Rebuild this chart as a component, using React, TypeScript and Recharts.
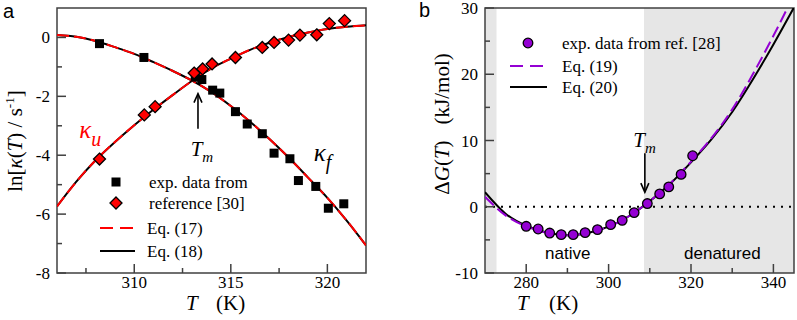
import { ComposedChart, Line, Scatter, XAxis, YAxis, ReferenceArea, ReferenceLine, ReferenceDot } from 'recharts';

const SERIF = '"Liberation Serif", "Times New Roman", serif';
const SANS = '"Liberation Sans", Arial, sans-serif';
const AXIS = '#404040';
const RED = '#ff0000';
const PURPLE = '#9400d3';

// ---- panel a: rate constants ----
const fitT = [306, 307, 308, 309, 310, 311, 312, 313, 314, 315, 316, 317, 318, 319, 320, 321, 322];
const kfFit = [0.08, 0.02, -0.12, -0.33, -0.56, -0.84, -1.14, -1.47, -1.86, -2.33, -2.86, -3.45, -4.08, -4.76, -5.45, -6.22, -7.06];
const kuFit = [-5.74, -4.9, -4.17, -3.55, -2.98, -2.45, -1.95, -1.47, -1.05, -0.72, -0.42, -0.18, 0.02, 0.17, 0.29, 0.36, 0.41];

const kfExpT = [308.2, 310.5, 313.16, 313.5, 314.06, 314.43, 315.24, 315.85, 316.63, 317.24, 318.06, 318.5, 319.4, 320.05, 320.85];
const kfExp = [-0.21, -0.68, -1.35, -1.43, -1.79, -1.89, -2.52, -2.94, -3.27, -3.93, -4.12, -4.86, -5.06, -5.8, -5.65];
const kuExpT = [308.2, 310.52, 311.08, 313.1, 313.54, 314.03, 315.24, 316.63, 317.24, 317.99, 318.58, 319.45, 320.1, 320.89];
const kuExp = [-4.13, -2.63, -2.35, -1.21, -1.07, -0.9, -0.68, -0.34, -0.17, -0.09, 0.08, 0.09, 0.47, 0.57];

const aTicksX = [307.5, 310, 312.5, 315, 317.5, 320];
const aMajorX = [310, 315, 320];
const aTicksY = [-8, -7, -6, -5, -4, -3, -2, -1, 0];
const aMajorY = [-8, -6, -4, -2, 0];

// ---- panel b: free energy ----
const dgFitT = [270, 275, 280, 285, 290, 295, 300, 305, 310, 315, 320, 325, 330, 335, 340, 345];
const dgEq19 = [1.5, -1.3, -2.95, -3.95, -4.3, -3.95, -3.0, -1.4, 0.85, 3.55, 6.8, 10.4, 14.7, 20.0, 25.8, 32.0];
const dgEq20 = [2.2, -1.05, -2.85, -3.9, -4.3, -3.95, -3.0, -1.4, 0.85, 3.5, 6.7, 10.2, 14.3, 19.2, 24.5, 30.1];

const dgExpT = [280.0, 282.9, 285.7, 288.5, 291.4, 294.3, 297.3, 300.5, 303.3, 306.2, 309.4, 312.4, 314.6, 317.6, 320.4];
const dgExp = [-2.95, -3.36, -3.97, -4.21, -4.21, -3.91, -3.45, -2.7, -2.05, -0.88, 0.48, 1.94, 3.0, 4.88, 7.7];

const bTicksX = [280, 290, 300, 310, 320, 330, 340];
const bMajorX = [280, 300, 320, 340];
const bTicksY = [-10, -5, 0, 5, 10, 15, 20, 25, 30];
const bMajorY = [-10, 0, 10, 20, 30];

const pts = (xs: number[], ys: number[]) => xs.map((T, i) => ({ T, v: ys[i] }));

const xTick = (majors: number[]) => (p: any) => {
  const major = majors.includes(p.payload.value);
  return (
    <g>
      <line x1={p.x} x2={p.x} y1={p.y} y2={p.y - (major ? 9 : 5)} stroke={AXIS} strokeWidth={1.5} />
      {major && (
        <text x={p.x} y={p.y + 15} textAnchor="middle" fontFamily={SERIF} fontSize={17} fill="#000">
          {p.payload.value}
        </text>
      )}
    </g>
  );
};

const yTick = (majors: number[]) => (p: any) => {
  const major = majors.includes(p.payload.value);
  return (
    <g>
      <line x1={p.x} x2={p.x + (major ? 9 : 5)} y1={p.y} y2={p.y} stroke={AXIS} strokeWidth={1.5} />
      {major && (
        <text x={p.x - 7} y={p.y + 6} textAnchor="end" fontFamily={SERIF} fontSize={17} fill="#000">
          {p.payload.value}
        </text>
      )}
    </g>
  );
};

const squareShape = (p: any) => <rect x={p.cx - 4.5} y={p.cy - 4.5} width={9} height={9} fill="#000" />;
const diamondShape = (p: any) => (
  <polygon
    points={`${p.cx},${p.cy - 6} ${p.cx + 6},${p.cy} ${p.cx},${p.cy + 6} ${p.cx - 6},${p.cy}`}
    fill={RED}
    stroke="#000"
    strokeWidth={1.3}
  />
);
const circleShape = (p: any) => <circle cx={p.cx} cy={p.cy} r={4.8} fill={PURPLE} stroke="#000" strokeWidth={1.3} />;

// arrow with tip at the dot; dir 1 = shaft goes down (points up), -1 = shaft goes up
const arrow = (len: number, dir: number) => (p: any) => (
  <g stroke="#000" strokeWidth={1.6} fill="none">
    <line x1={p.cx} y1={p.cy} x2={p.cx} y2={p.cy + dir * len} />
    <polyline points={`${p.cx - 4},${p.cy + dir * 9} ${p.cx},${p.cy} ${p.cx + 4},${p.cy + dir * 9}`} />
  </g>
);

const subLabel = (main: string, sub: string, color: string, size: number, subSize: number, dy: number, dx = 0) => (p: any) => (
  <text x={p.cx} y={p.cy} fontFamily={SERIF} fontSize={size} fill={color} fontStyle="italic">
    {main}
    <tspan dx={dx} dy={dy} fontSize={subSize}>{sub}</tspan>
  </text>
);

const plainLabel = (txt: string) => (p: any) => (
  <text x={p.cx} y={p.cy} textAnchor="middle" fontFamily={SANS} fontSize={17} fill="#000">
    {txt}
  </text>
);

function PanelA() {
  return (
    <ComposedChart width={400} height={320} margin={{ top: 8, right: 34, bottom: 17, left: 27 }}>
      <XAxis
        type="number"
        dataKey="T"
        domain={[306, 322]}
        allowDataOverflow
        ticks={aTicksX}
        interval={0}
        height={30}
        tickSize={0}
        tickMargin={0}
        axisLine={false}
        tickLine={false}
        tick={xTick(aMajorX)}
      />
      <YAxis
        type="number"
        dataKey="v"
        domain={[-8, 1]}
        allowDataOverflow
        ticks={aTicksY}
        interval={0}
        width={30}
        tickSize={0}
        tickMargin={0}
        axisLine={false}
        tickLine={false}
        tick={yTick(aMajorY)}
      />
      <Line data={pts(fitT, kfFit)} dataKey="v" type="monotone" stroke="#000" strokeWidth={2} dot={false} isAnimationActive={false} />
      <Line data={pts(fitT, kuFit)} dataKey="v" type="monotone" stroke="#000" strokeWidth={2} dot={false} isAnimationActive={false} />
      <Line data={pts(fitT, kfFit)} dataKey="v" type="monotone" stroke={RED} strokeWidth={2} strokeDasharray="12 5" dot={false} isAnimationActive={false} />
      <Line data={pts(fitT, kuFit)} dataKey="v" type="monotone" stroke={RED} strokeWidth={2} strokeDasharray="12 5" dot={false} isAnimationActive={false} />
      <Scatter data={pts(kfExpT, kfExp)} dataKey="v" shape={squareShape} isAnimationActive={false} />
      <Scatter data={pts(kuExpT, kuExp)} dataKey="v" shape={diamondShape} isAnimationActive={false} />
      <ReferenceDot x={313.3} y={-1.91} shape={arrow(35, 1)} />
      <ReferenceDot x={312.92} y={-4.04} shape={subLabel('T', 'm', '#000', 21, 15, 6)} />
      <ReferenceDot x={307.15} y={-3.4} shape={subLabel('κ', 'u', RED, 25, 20, 8, 0)} />
      <ReferenceDot x={319.3} y={-4.2} shape={subLabel('κ', 'f', '#000', 25, 20, 8, 0)} />
      <ReferenceArea x1={306} x2={322} y1={-8} y2={1} fill="none" stroke={AXIS} strokeWidth={1.5} />
    </ComposedChart>
  );
}

function PanelB() {
  return (
    <ComposedChart width={397} height={320} margin={{ top: 8, right: 3, bottom: 17, left: 55 }}>
      <XAxis
        type="number"
        dataKey="T"
        domain={[270, 345]}
        allowDataOverflow
        ticks={bTicksX}
        interval={0}
        height={30}
        tickSize={0}
        tickMargin={0}
        axisLine={false}
        tickLine={false}
        tick={xTick(bMajorX)}
      />
      <YAxis
        type="number"
        dataKey="v"
        domain={[-10, 30]}
        allowDataOverflow
        ticks={bTicksY}
        interval={0}
        width={30}
        tickSize={0}
        tickMargin={0}
        axisLine={false}
        tickLine={false}
        tick={yTick(bMajorY)}
      />
      <ReferenceArea x1={270} x2={272.8} y1={-10} y2={30} fill="#e6e6e6" fillOpacity={1} />
      <ReferenceArea x1={308.6} x2={345} y1={-10} y2={30} fill="#e6e6e6" fillOpacity={1} />
      <ReferenceLine y={0} stroke="#000" strokeWidth={2} strokeDasharray="2 6" />
      <Line data={pts(dgFitT, dgEq20)} dataKey="v" type="natural" stroke="#000" strokeWidth={2} dot={false} isAnimationActive={false} />
      <Line data={pts(dgFitT, dgEq19)} dataKey="v" type="natural" stroke={PURPLE} strokeWidth={2} strokeDasharray="12 5" dot={false} isAnimationActive={false} />
      <Scatter data={pts(dgExpT, dgExp)} dataKey="v" shape={circleShape} isAnimationActive={false} />
      <ReferenceDot x={308.8} y={2.2} shape={arrow(39, -1)} />
      <ReferenceDot x={306.0} y={9.0} shape={subLabel('T', 'm', '#000', 21, 15, 6)} />
      <ReferenceDot x={290.1} y={-7.9} shape={plainLabel('native')} />
      <ReferenceDot x={327.6} y={-7.9} shape={plainLabel('denatured')} />
      <ReferenceArea x1={270} x2={345} y1={-10} y2={30} fill="none" stroke={AXIS} strokeWidth={1.5} />
    </ComposedChart>
  );
}

function Overlay() {
  const t = { fontFamily: SERIF, fill: '#000' };
  return (
    <svg width={797} height={320} style={{ position: 'absolute', left: 0, top: 0, pointerEvents: 'none' }}>
      <text x={3} y={18} fontFamily={SANS} fontSize={20}>a</text>
      <text x={419} y={17} fontFamily={SANS} fontSize={20}>b</text>

      {/* panel a axis titles */}
      <text {...t} fontSize={21} transform="translate(22,141) rotate(-90)" textAnchor="middle">
        ln[<tspan fontStyle="italic">κ</tspan>(<tspan fontStyle="italic">T</tspan>) / s<tspan dy={-8} fontSize={13}>-1</tspan><tspan dy={8}>]</tspan>
      </text>
      <text {...t} x={186} y={310} fontSize={21} fontStyle="italic">T</text>
      <text {...t} x={216} y={310} fontSize={21}>(K)</text>

      {/* panel a legend */}
      <rect x={111.5} y={177.5} width={9} height={9} fill="#000" />
      <polygon points="116,197 122,203 116,209 110,203" fill={RED} stroke="#000" strokeWidth={1.3} />
      <text {...t} x={149} y={188} fontSize={17}>exp. data from</text>
      <text {...t} x={149} y={209} fontSize={17}>reference [30]</text>
      <line x1={100} x2={135} y1={228} y2={228} stroke={RED} strokeWidth={2} strokeDasharray="13 7" />
      <text {...t} x={147} y={234} fontSize={17}>Eq. (17)</text>
      <line x1={100} x2={135} y1={251} y2={251} stroke="#000" strokeWidth={2} />
      <text {...t} x={147} y={257} fontSize={17}>Eq. (18)</text>

      {/* panel b axis titles */}
      <text {...t} fontSize={21} transform="translate(449,124) rotate(-90)" textAnchor="middle">
        Δ<tspan fontStyle="italic">G</tspan>(<tspan fontStyle="italic">T</tspan>)<tspan dx={16}>(kJ/mol)</tspan>
      </text>
      <text {...t} x={517} y={310} fontSize={21} fontStyle="italic">T</text>
      <text {...t} x={549} y={310} fontSize={21}>(K)</text>

      {/* panel b legend */}
      <circle cx={528} cy={43} r={4.8} fill={PURPLE} stroke="#000" strokeWidth={1.3} />
      <text {...t} x={562} y={49} fontSize={17}>exp. data from ref. [28]</text>
      <line x1={510} x2={547} y1={66} y2={66} stroke={PURPLE} strokeWidth={2} strokeDasharray="13 7" />
      <text {...t} x={562} y={72} fontSize={17}>Eq. (19)</text>
      <line x1={510} x2={547} y1={87} y2={87} stroke="#000" strokeWidth={2} />
      <text {...t} x={562} y={93} fontSize={17}>Eq. (20)</text>
    </svg>
  );
}

export default function App() {
  return (
    <div style={{ position: 'absolute', left: 0, top: 0, width: 797, height: 320, background: '#fff' }}>
      <div style={{ position: 'absolute', left: 0, top: 0 }}>
        <PanelA />
      </div>
      <div style={{ position: 'absolute', left: 400, top: 0 }}>
        <PanelB />
      </div>
      <Overlay />
    </div>
  );
}
